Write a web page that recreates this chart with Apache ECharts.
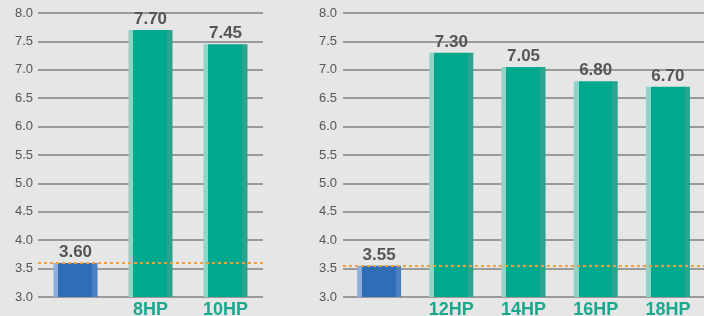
<!doctype html>
<html>
<head>
	<meta charset="UTF-8">
	<title>HP chart</title>
	<script src="https://cdn.jsdelivr.net/npm/echarts@6/dist/echarts.min.js"></script>
	<style>
		html, body { margin: 0; padding: 0; background: #e6e6e6; }
		#chart { width: 704px; height: 316px; }
	</style>
</head>
<body>
	<div id="chart"></div>
	<script>
		// data
		var leftCats = ['', '8HP', '10HP'];
		var leftVals = [3.60, 7.70, 7.45];
		var rightCats = ['', '12HP', '14HP', '16HP', '18HP'];
		var rightVals = [3.55, 7.30, 7.05, 6.80, 6.70];
		var yMin = 3.0, yMax = 8.0, yStep = 0.5;
		var leftRef = 3.60;
		var rightRef = 3.55;

		function barFill(light, main, dark) {
			return new echarts.graphic.LinearGradient(0, 0, 1, 0, [
				{ offset: 0, color: light },
				{ offset: 0.11, color: light },
				{ offset: 0.11, color: main },
				{ offset: 0.88, color: main },
				{ offset: 0.88, color: dark },
				{ offset: 1, color: dark }
			]);
		}
		var blueFill = barFill('#8eaedb', '#2f6db6', '#4a7fc0');
		var greenFill = barFill('#8ed4c7', '#00a98d', '#2aa38f');

		function makeData(vals) {
			return vals.map(function (v, i) {
				return { value: v, itemStyle: { color: i === 0 ? blueFill : greenFill } };
			});
		}

		function yAxis(idx, margin) {
			return {
				type: 'value', gridIndex: idx,
				min: yMin, max: yMax, interval: yStep,
				axisLine: { show: false }, axisTick: { show: false },
				axisLabel: {
					color: '#555', fontSize: 13, margin: margin,
					fontFamily: 'Arial, Liberation Sans, sans-serif',
					formatter: function (v) { return v.toFixed(1); }
				},
				splitLine: { lineStyle: { color: '#808080', width: 1.5 } }
			};
		}

		function xAxis(idx, cats) {
			return {
				type: 'category', gridIndex: idx, data: cats,
				axisLine: { show: false }, axisTick: { show: false },
				axisLabel: {
					color: '#1aa98f', fontSize: 18, fontWeight: 'bold', margin: 4,
					fontFamily: 'Arial, Liberation Sans, sans-serif'
				}
			};
		}

		function barSeries(idx, vals, ref) {
			return {
				type: 'bar', xAxisIndex: idx, yAxisIndex: idx,
				barWidth: 44,
				data: makeData(vals),
				label: {
					show: true, position: 'top', distance: 2,
					color: '#555', fontSize: 17, fontWeight: 'bold',
					fontFamily: 'Arial, Liberation Sans, sans-serif',
					formatter: function (p) { return p.value.toFixed(2); }
				},
				markLine: {
					silent: true, symbol: 'none',
					label: { show: false },
					lineStyle: { color: '#f0a03c', type: [3, 3], width: 2 },
					data: [{ yAxis: ref }]
				}
			};
		}

		var chart = echarts.init(document.getElementById('chart'));
		chart.setOption({
			backgroundColor: '#e6e6e6',
			animation: false,
			grid: [
				{ left: 38, right: 441, top: 13, bottom: 19, outerBoundsMode: 'none' },
				{ left: 343, right: 0, top: 13, bottom: 19, outerBoundsMode: 'none' }
			],
			xAxis: [xAxis(0, leftCats), xAxis(1, rightCats)],
			yAxis: [yAxis(0, 5), yAxis(1, 6)],
			series: [barSeries(0, leftVals, leftRef), barSeries(1, rightVals, rightRef)]
		});
	</script>
</body>
</html>
